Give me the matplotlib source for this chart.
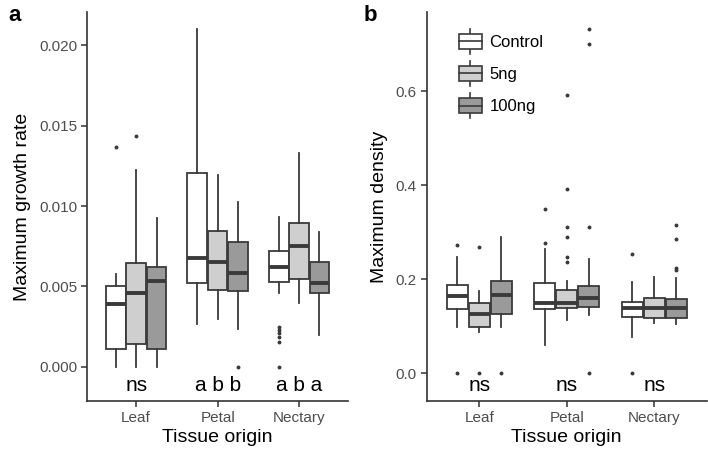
import numpy as np
import matplotlib
matplotlib.use('Agg')
import matplotlib.pyplot as plt
from matplotlib.patches import Rectangle
from matplotlib.lines import Line2D
from matplotlib.legend_handler import HandlerBase

plt.rcParams['font.family'] = 'Liberation Sans'

tissues = ['Leaf', 'Petal', 'Nectary']
treatments = ['Control', '5ng', '100ng']
fill_colors = ['#ffffff', '#cfcfcf', '#9a9a9a']

# panel a: maximum growth rate, per tissue -> per treatment
# (whislo, q1, med, q3, whishi, fliers)
growth_stats = {
    'Leaf': [
        (0.0, 0.00112, 0.0039, 0.00504, 0.00577, [0.0137]),
        (0.0, 0.00141, 0.00457, 0.00648, 0.01225, [0.01437]),
        (0.0, 0.00112, 0.00536, 0.00619, 0.00928, []),
    ],
    'Petal': [
        (0.00264, 0.00519, 0.00675, 0.01204, 0.02103, []),
        (0.00295, 0.00478, 0.00654, 0.00845, 0.01194, []),
        (0.00233, 0.00473, 0.00585, 0.00774, 0.01027, [0.0]),
    ],
    'Nectary': [
        (0.00457, 0.00529, 0.00623, 0.00718, 0.00934,
         [0.00249, 0.00228, 0.00208, 0.00183, 0.00156, 0.0]),
        (0.00395, 0.00544, 0.00752, 0.00893, 0.01333, []),
        (0.00197, 0.00457, 0.00519, 0.00654, 0.00841, []),
    ],
}
growth_letters = ['ns', 'a b b', 'a b a']

# panel b: maximum density
density_stats = {
    'Leaf': [
        (0.099, 0.136, 0.1645, 0.188, 0.247, [0.274, 0.0]),
        (0.087, 0.099, 0.1255, 0.150, 0.175, [0.268, 0.0]),
        (0.099, 0.127, 0.1666, 0.196, 0.291, [0.0]),
    ],
    'Petal': [
        (0.060, 0.136, 0.149, 0.193, 0.264, [0.278, 0.3496]),
        (0.113, 0.138, 0.150, 0.177, 0.197,
         [0.237, 0.247, 0.291, 0.311, 0.392, 0.593]),
        (0.124, 0.1418, 0.1596, 0.186, 0.2426, [0.312, 0.700, 0.7326, 0.0]),
    ],
    'Nectary': [
        (0.078, 0.119, 0.138, 0.1524, 0.1936, [0.253, 0.0]),
        (0.1077, 0.117, 0.138, 0.1596, 0.204, []),
        (0.105, 0.117, 0.138, 0.1574, 0.202, [0.2198, 0.2234, 0.2857, 0.3155]),
    ],
}
density_letters = ['ns', 'ns', 'ns']

edge = '#3a3a3a'
tick_col = '#4d4d4d'


def draw_panel(ax, stats, letters, letter_y, ylim, yticks, yticklabels, ylabel):
    offsets = [-0.25, 0.0, 0.25]
    for i, t in enumerate(tissues):
        for j in range(3):
            lo, q1, med, q3, hi, fl = stats[t][j]
            st = [dict(whislo=lo, q1=q1, med=med, q3=q3, whishi=hi, fliers=fl)]
            ax.bxp(st, positions=[i + 1 + offsets[j]], widths=0.24,
                   patch_artist=True, showcaps=False,
                   boxprops=dict(facecolor=fill_colors[j], edgecolor=edge, linewidth=1.3),
                   whiskerprops=dict(color=edge, linewidth=1.3),
                   medianprops=dict(color=edge, linewidth=2.8, solid_capstyle='butt'),
                   flierprops=dict(marker='o', markersize=1.8, markerfacecolor=edge,
                                   markeredgecolor=edge, linestyle='none'))
        ax.text(i + 1, letter_y, letters[i], ha='center', va='center', fontsize=15, color='black')
    ax.set_xlim(0.4, 3.6)
    ax.set_ylim(*ylim)
    ax.set_xticks([1, 2, 3])
    ax.set_xticklabels(tissues, fontsize=11, color=tick_col)
    ax.set_yticks(yticks)
    ax.set_yticklabels(yticklabels, fontsize=11, color=tick_col)
    ax.spines['top'].set_visible(False)
    ax.spines['right'].set_visible(False)
    for s in ['left', 'bottom']:
        ax.spines[s].set_color('#333333')
        ax.spines[s].set_linewidth(1.2)
    ax.tick_params(axis='both', direction='out', length=4, width=1.1, color='#333333', pad=3)
    ax.set_xlabel('Tissue origin', fontsize=14, labelpad=3)
    ax.set_ylabel(ylabel, fontsize=14, labelpad=6)


class BoxKey(HandlerBase):
    def create_artists(self, legend, orig_handle, xdescent, ydescent,
                       width, height, fontsize, trans):
        x0, y0 = -xdescent, -ydescent
        fc = orig_handle.get_facecolor()
        whisk1 = Line2D([x0 + width / 2] * 2, [y0, y0 + 0.2 * height], color=edge, lw=1.2)
        whisk2 = Line2D([x0 + width / 2] * 2, [y0 + 0.8 * height, y0 + height], color=edge, lw=1.2)
        rect = Rectangle((x0, y0 + 0.2 * height), width, 0.6 * height,
                         facecolor=fc, edgecolor=edge, lw=1.2)
        med = Line2D([x0, x0 + width], [y0 + 0.5 * height] * 2, color=edge, lw=1.2)
        arts = [whisk1, whisk2, rect, med]
        for a in arts:
            a.set_transform(trans)
        return arts


fig = plt.figure(figsize=(7.08, 4.51), dpi=100)
ax1 = fig.add_axes([0.1233, 0.1109, 0.3682, 0.8625])
ax2 = fig.add_axes([0.6027, 0.1109, 0.3955, 0.8625])

draw_panel(ax1, growth_stats, growth_letters, -0.00118, (-0.00214, 0.02208),
           [0.0, 0.005, 0.010, 0.015, 0.020],
           ['0.000', '0.005', '0.010', '0.015', '0.020'], 'Maximum growth rate')
draw_panel(ax2, density_stats, density_letters, -0.025, (-0.059, 0.769),
           [0.0, 0.2, 0.4, 0.6], ['0.0', '0.2', '0.4', '0.6'], 'Maximum density')

handles = [Rectangle((0, 0), 1, 1, facecolor=c) for c in fill_colors]
ax2.legend(handles, treatments, handler_map={Rectangle: BoxKey()},
           loc='upper left', bbox_to_anchor=(0.06, 0.995), frameon=False,
           fontsize=12, handlelength=1.4, handleheight=1.9, labelspacing=0.45,
           handletextpad=0.45)

fig.text(0.012, 0.965, 'a', fontsize=16, fontweight='bold', va='center')
fig.text(0.513, 0.965, 'b', fontsize=16, fontweight='bold', va='center')

fig.savefig('out.png', dpi=100)
